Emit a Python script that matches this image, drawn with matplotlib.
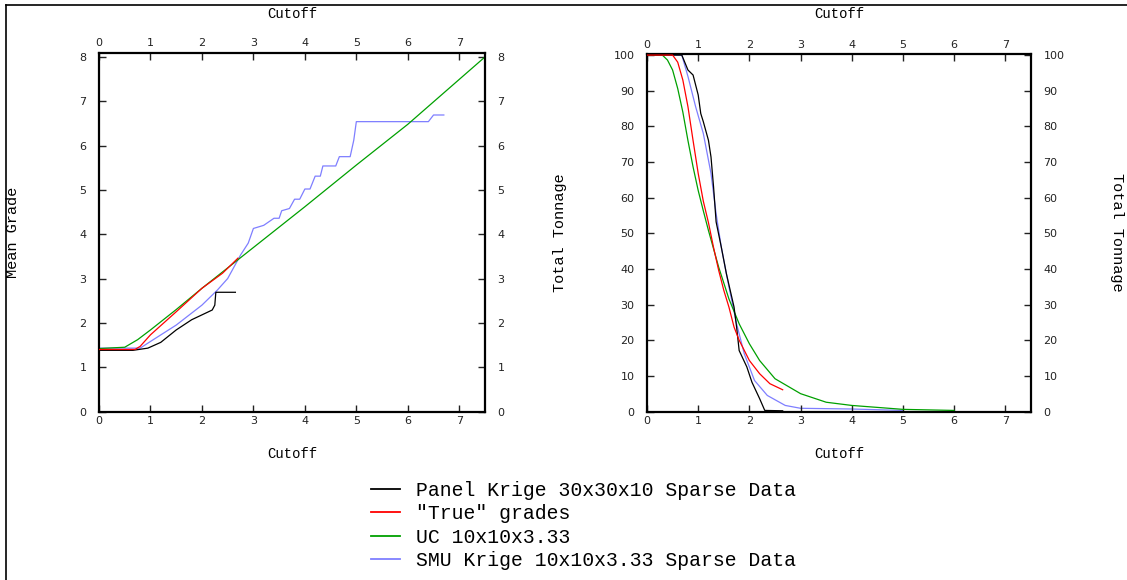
import matplotlib
matplotlib.use("Agg")
import matplotlib.pyplot as plt
from matplotlib.lines import Line2D

# ---------------- data ----------------
# Left panel: Mean grade vs cutoff
panel_mg_x = [0, 0.66, 0.95, 1.2, 1.5, 1.8, 2.0, 2.2, 2.25, 2.27, 2.65]
panel_mg_y = [1.38, 1.38, 1.43, 1.56, 1.84, 2.07, 2.18, 2.29, 2.40, 2.69, 2.69]

true_mg_x = [0, 0.7, 0.8, 1.0, 1.5, 2.0, 2.4, 2.7]
true_mg_y = [1.40, 1.40, 1.47, 1.73, 2.25, 2.78, 3.12, 3.46]

uc_mg_x = [0, 0.5, 0.75, 1.0, 1.5, 2.0, 2.5, 3.0, 4.0, 5.0, 6.0, 7.5]
uc_mg_y = [1.42, 1.45, 1.62, 1.84, 2.30, 2.78, 3.24, 3.70, 4.62, 5.56, 6.48, 8.0]

smu_mg_x = [0, 0.8, 1.0, 1.5, 2.0, 2.3, 2.5, 2.75, 2.9, 3.0, 3.2, 3.4, 3.5, 3.55,
            3.7, 3.8, 3.9, 4.0, 4.1, 4.2, 4.3, 4.35, 4.6, 4.67, 4.88, 4.95, 5.0,
            6.4, 6.5, 6.7]
smu_mg_y = [1.43, 1.43, 1.58, 1.95, 2.40, 2.74, 3.0, 3.53, 3.8, 4.13, 4.2, 4.36,
            4.36, 4.53, 4.58, 4.79, 4.79, 5.02, 5.02, 5.31, 5.31, 5.54, 5.54, 5.75,
            5.75, 6.12, 6.54, 6.54, 6.69, 6.69]

# Right panel: Total tonnage vs cutoff
panel_tt_x = [0, 0.68, 0.8, 0.9, 1.0, 1.05, 1.1, 1.2, 1.25, 1.3, 1.35, 1.45, 1.55,
              1.7, 1.75, 1.8, 1.95, 2.05, 2.2, 2.3, 2.65]
panel_tt_y = [100, 100, 95.8, 94.4, 88.8, 83.6, 81.3, 76.1, 71.4, 63, 53.2, 46.2,
              38.7, 29.3, 23.7, 17.1, 12.5, 8.2, 3.6, 0.3, 0.2]

true_tt_x = [0, 0.5, 0.6, 0.7, 0.8, 0.9, 1.0, 1.1, 1.2, 1.3, 1.4, 1.5, 1.6, 1.7,
             1.8, 2.0, 2.2, 2.4, 2.65]
true_tt_y = [100, 100, 98, 93, 85.5, 76, 66.8, 59, 53, 46, 39.6, 34, 29.3, 23.7,
             20, 14.3, 10.6, 7.8, 6.1]

uc_tt_x = [0, 0.3, 0.4, 0.5, 0.6, 0.7, 0.8, 0.9, 1.0, 1.1, 1.2, 1.4, 1.6, 1.8,
           2.0, 2.2, 2.5, 3.0, 3.5, 4.0, 5.0, 6.0]
uc_tt_y = [100, 100, 98.6, 95.8, 90.6, 84, 76, 68.6, 62, 56.3, 50.8, 40.5, 31.6,
           24.6, 19, 14.3, 9.2, 5.0, 2.6, 1.7, 0.6, 0.3]

smu_tt_x = [0, 0.68, 0.8, 0.95, 1.1, 1.25, 1.35, 1.45, 1.6, 1.75, 1.9, 2.1, 2.35,
            2.7, 3.0, 4.0, 5.0]
smu_tt_y = [100, 100, 94, 85.5, 78, 66.8, 55.5, 46.2, 35, 24.6, 16.2, 8.7, 4.5,
            1.7, 0.9, 0.7, 0.3]

labels = ["Panel Krige 30x30x10 Sparse Data", '"True" grades',
          "UC 10x10x3.33", "SMU Krige 10x10x3.33 Sparse Data"]
colors = ["#000000", "#ff0000", "#00a000", "#7f7fff"]

xticks = [0, 1, 2, 3, 4, 5, 6, 7]
mg_ticks = [0, 1, 2, 3, 4, 5, 6, 7, 8]
tt_ticks = [0, 10, 20, 30, 40, 50, 60, 70, 80, 90, 100]

# ---------------- figure ----------------
W, H = 1127, 580
fig = plt.figure(figsize=(W / 100, H / 100), dpi=100)
mono = "Liberation Mono"
tickfont = "DejaVu Sans"

def px_axes(x0, x1, y0, y1):
    return fig.add_axes([x0 / W, 1 - y1 / H, (x1 - x0) / W, (y1 - y0) / H])

axL = px_axes(99, 485, 52.5, 411.5)
axR = px_axes(647, 1031, 54, 411.5)

def style(ax, yticks, ylim, top_y):
    ax.set_xlim(0, 7.5)
    ax.set_ylim(*ylim)
    ax.set_xticks(xticks)
    ax.set_yticks(yticks)
    ax.tick_params(direction="in", length=5, width=1, top=True, right=True,
                   labeltop=True, labelright=True, labelsize=8,
                   colors="#222222")
    ax.tick_params(axis="x", pad=3)
    ax.tick_params(axis="y", pad=9)
    for lab in ax.get_xticklabels() + ax.get_yticklabels():
        lab.set_fontfamily(tickfont)
    for s in ax.spines.values():
        s.set_linewidth(1.6)
    ax.set_xlabel("Cutoff", fontfamily=mono, fontsize=10)
    ax.xaxis.set_label_coords(0.5, -0.10)
    ax.text(0.5, top_y, "Cutoff", transform=ax.transAxes, ha="center",
            va="center", fontfamily=mono, fontsize=10)

style(axL, mg_ticks, (0, 8.1), 1.107)
style(axR, tt_ticks, (0, 100.3), 1.112)

lw = 0.9
axL.plot(panel_mg_x, panel_mg_y, color=colors[0], lw=lw, zorder=3)
axL.plot(true_mg_x, true_mg_y, color=colors[1], lw=lw, zorder=4)
axL.plot(uc_mg_x, uc_mg_y, color=colors[2], lw=lw, zorder=2)
axL.plot(smu_mg_x, smu_mg_y, color=colors[3], lw=lw, zorder=1)

axR.plot(panel_tt_x, panel_tt_y, color=colors[0], lw=lw, zorder=3)
axR.plot(true_tt_x, true_tt_y, color=colors[1], lw=lw, zorder=4)
axR.plot(uc_tt_x, uc_tt_y, color=colors[2], lw=lw, zorder=2)
axR.plot(smu_tt_x, smu_tt_y, color=colors[3], lw=lw, zorder=1)

axL.text(-0.222, 0.50, "Mean Grade", transform=axL.transAxes, rotation=90,
         ha="center", va="center", fontfamily=mono, fontsize=11)
axR.text(-0.227, 0.50, "Total Tonnage", transform=axR.transAxes, rotation=90,
         ha="center", va="center", fontfamily=mono, fontsize=11)
axR.text(1.224, 0.50, "Total Tonnage", transform=axR.transAxes, rotation=270,
         ha="center", va="center", fontfamily=mono, fontsize=11)

handles = [Line2D([], [], color=c, lw=1.3) for c in colors]
fig.legend(handles, labels, loc="upper left",
           bbox_to_anchor=(361 / W, 1 - 471 / H), frameon=False,
           prop={"family": mono, "size": 14.2}, handlelength=1.5,
           handletextpad=0.8, labelspacing=0.22, borderpad=0)

# outer frame lines (top and left)
fig.add_artist(Line2D([6 / W, 1], [1 - 5 / H, 1 - 5 / H], color="black",
                      lw=1.2, transform=fig.transFigure))
fig.add_artist(Line2D([6 / W, 6 / W], [0, 1 - 5 / H], color="black",
                      lw=1.2, transform=fig.transFigure))

fig.savefig("out.png", dpi=100)
